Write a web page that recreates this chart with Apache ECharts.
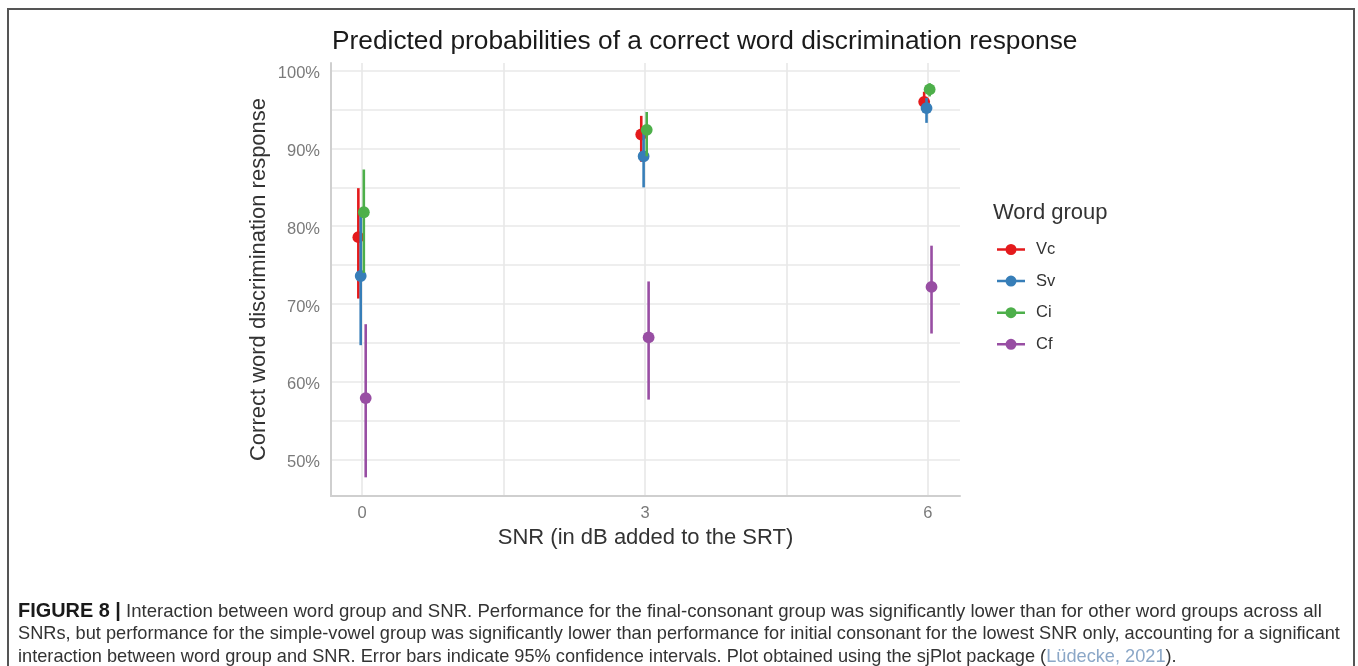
<!DOCTYPE html>
<html>
<head>
<meta charset="utf-8">
<script src="https://cdn.jsdelivr.net/npm/echarts@6/dist/echarts.min.js"></script>
<style>
html,body{margin:0;padding:0;background:#fff;}
#chart{width:1358px;height:666px;}
</style>
</head>
<body>
<div id="chart"></div>
<script>
// ---- data ----
const snrLevels = [0, 3, 6];
const groups = ['Vc', 'Sv', 'Ci', 'Cf'];
const vcMean = [78.6, 91.8, 96.0];
const vcLow  = [70.7, 88.3, 94.6];
const vcHigh = [84.9, 94.2, 97.3];
const svMean = [73.6, 89.0, 95.2];
const svLow  = [64.7, 85.0, 93.3];
const svHigh = [81.5, 92.2, 96.5];
const ciMean = [81.8, 92.4, 97.6];
const ciLow  = [74.0, 89.0, 96.7];
const ciHigh = [87.3, 94.7, 98.4];
const cfMean = [57.9, 65.7, 72.2];
const cfLow  = [47.7, 57.7, 66.2];
const cfHigh = [67.4, 72.9, 77.5];
const yLabelTicks = [50, 60, 70, 80, 90, 100];
const yGridTicks = [50, 55, 60, 65, 70, 75, 80, 85, 90, 95, 100];
const xLabelTicks = [0, 3, 6];
const xGridTicks = [0, 1.5, 3, 4.5, 6];

const means = [vcMean, svMean, ciMean, cfMean];
const lows = [vcLow, svLow, ciLow, cfLow];
const highs = [vcHigh, svHigh, ciHigh, cfHigh];
const colors = ['#e41a1c', '#377eb8', '#4daf4a', '#984ea3'];
const dodge = [-0.04, -0.015, 0.018, 0.038];

const iconPath = 'path://M0,4.75 L28,4.75 L28,7.25 L0,7.25 Z M8.5,6 A5.5,5.5 0 1 1 19.5,6 A5.5,5.5 0 1 1 8.5,6 Z';

function renderItem(params, api) {
  const x = api.value(0);
  const p = api.coord([x, api.value(1)]);
  const lo = api.coord([x, api.value(2)]);
  const hi = api.coord([x, api.value(3)]);
  const color = api.visual('color');
  return {
    type: 'group',
    children: [
      {type: 'line', shape: {x1: lo[0], y1: lo[1], x2: hi[0], y2: hi[1]},
       style: {stroke: color, lineWidth: 2.6}},
      {type: 'circle', shape: {cx: p[0], cy: p[1], r: 5.9}, style: {fill: color}}
    ]
  };
}

const series = groups.map((g, s) => ({
  name: g,
  type: 'custom',
  renderItem: renderItem,
  itemStyle: {color: colors[s]},
  encode: {x: 0, y: 1},
  data: snrLevels.map((v, i) => [v + dodge[s], means[s][i], lows[s][i], highs[s][i]])
}));

const caption1 = '{b|FIGURE 8 |} Interaction between word group and SNR. Performance for the final-consonant group was significantly lower than for other word groups across all';
const caption2 = 'SNRs, but performance for the simple-vowel group was significantly lower than performance for initial consonant for the lowest SNR only, accounting for a significant';
const caption3 = 'interaction between word group and SNR. Error bars indicate 95% confidence intervals. Plot obtained using the sjPlot package ({l|Lüdecke, 2021}).';

const capFont = {fontFamily: 'Liberation Sans', fontSize: 18.2, fill: '#333333'};

const chart = echarts.init(document.getElementById('chart'), null, {renderer: 'canvas'});
chart.setOption({
  backgroundColor: '#ffffff',
  animation: false,
  title: {
    text: 'Predicted probabilities of a correct word discrimination response',
    left: 332, top: 29, padding: 0,
    textStyle: {fontFamily: 'Liberation Sans', fontSize: 26.3, fontWeight: 'normal', color: '#1a1a1a'}
  },
  grid: {left: 331, right: 398, top: 63, bottom: 170},
  xAxis: {
    type: 'value', min: -0.33, max: 6.34,
    name: 'SNR (in dB added to the SRT)',
    nameLocation: 'middle', nameGap: 31,
    nameTextStyle: {fontFamily: 'Liberation Sans', fontSize: 22, color: '#333333'},
    axisLine: {show: true, onZero: false, lineStyle: {color: '#cfcfcf', width: 2}},
    axisTick: {show: false, customValues: xGridTicks},
    axisLabel: {customValues: xLabelTicks, margin: 9, fontFamily: 'Liberation Sans', fontSize: 16.5, color: '#7a7a7a'},
    splitLine: {show: true, lineStyle: {color: '#e8e8e8', width: 1.6}}
  },
  yAxis: {
    type: 'value', min: 45.3, max: 101,
    name: 'Correct word discrimination response',
    nameLocation: 'middle', nameGap: 61, nameRotate: 90,
    nameTextStyle: {fontFamily: 'Liberation Sans', fontSize: 22, color: '#333333'},
    axisLine: {show: true, onZero: false, lineStyle: {color: '#cfcfcf', width: 2}},
    axisTick: {show: false, customValues: yGridTicks},
    axisLabel: {customValues: yLabelTicks, margin: 11, formatter: v => v + '%',
      verticalAlign: 'top', lineHeight: 6,
      fontFamily: 'Liberation Sans', fontSize: 16.5, color: '#7a7a7a'},
    splitLine: {show: true, lineStyle: {color: '#e8e8e8', width: 1.6}}
  },
  legend: {
    orient: 'vertical', left: 997, top: 241, padding: 0,
    itemWidth: 28, itemHeight: 11, itemGap: 14.6,
    data: groups.map(g => ({name: g, icon: iconPath})),
    textStyle: {fontFamily: 'Liberation Sans', fontSize: 16.5, color: '#333333', lineHeight: 16, padding: [0, 0, 0, 6]}
  },
  graphic: [
    {type: 'rect', silent: true,
     shape: {x: 8, y: 9, width: 1346, height: 700},
     style: {fill: 'none', stroke: '#555555', lineWidth: 2}},
    {type: 'text', left: 993, top: 202, silent: true,
     style: {text: 'Word group', font: '22px "Liberation Sans"', fill: '#333333'}},
    {type: 'text', left: 18, top: 601.5, silent: true,
     style: Object.assign({}, capFont, {text: caption1, fontSize: 18.6,
       rich: {b: {fontWeight: 'bold', fontSize: 19.9, fontFamily: 'Liberation Sans', fill: '#1a1a1a'}}})},
    {type: 'text', left: 18, top: 624.5, silent: true,
     style: Object.assign({text: caption2}, capFont)},
    {type: 'text', left: 18, top: 647.5, silent: true,
     style: Object.assign({text: caption3, rich: {l: {fontSize: 18.2, fontFamily: 'Liberation Sans', fill: '#8ba7c7'}}}, capFont)}
  ],
  series: series
});
</script>
</body>
</html>
